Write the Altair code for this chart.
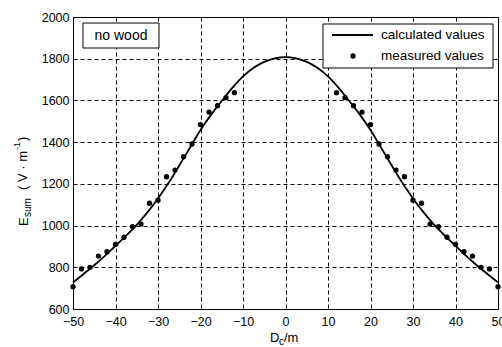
import altair as alt
import pandas as pd

# ---- data ----
calc_x = [-50, -47.5, -45, -42.5, -40, -37.5, -35, -32.5, -30, -27.5, -25, -22.5, -20, -17.5, -15,
          -12.5, -10, -7.5, -5, -2.5, 0, 2.5, 5, 7.5, 10, 12.5, 15, 17.5, 20, 22.5, 25, 27.5, 30,
          32.5, 35, 37.5, 40, 42.5, 45, 47.5, 50]
calc_y = [727, 768, 810, 855, 903, 952, 1003, 1063, 1130, 1205, 1288, 1373, 1458, 1532, 1597,
          1660, 1715, 1757, 1785, 1802, 1808, 1802, 1785, 1757, 1715, 1660, 1597, 1532, 1458, 1373,
          1288, 1205, 1130, 1063, 1003, 952, 903, 855, 810, 768, 727]

meas_x = [-50, -48, -46, -44, -42, -40, -38, -36, -34, -32, -30, -28, -26, -24, -22, -20, -18, -16, -14, -12,
          12, 14, 16, 18, 20, 22, 24, 26, 28, 30, 32, 34, 36, 38, 40, 42, 44, 46, 48, 50]
meas_y = [707, 792, 800, 854, 875, 910, 944, 995, 1007, 1107, 1122, 1234, 1266, 1330, 1391, 1484, 1544, 1575, 1613, 1637,
          1637, 1613, 1575, 1544, 1484, 1391, 1330, 1266, 1234, 1122, 1107, 1007, 995, 944, 910, 875, 854, 800, 792, 707]

x_ticks = [-50, -40, -30, -20, -10, 0, 10, 20, 30, 40, 50]
y_ticks = [600, 800, 1000, 1200, 1400, 1600, 1800, 2000]
legend_labels = ["calculated values", "measured values"]
panel_label = "no wood"

W, H = 425, 292
FONT = "Liberation Sans"

calc = pd.DataFrame({"d": calc_x, "e": calc_y})
meas = pd.DataFrame({"d": meas_x, "e": meas_y})
one = pd.DataFrame({"k": [0]})

xs = alt.Scale(domain=[-50, 50], nice=False, zero=False)
ys = alt.Scale(domain=[600, 2000], nice=False, zero=False)

xaxis = alt.Axis(values=x_ticks, title=None, grid=True, gridDash=[4, 3], gridColor="black",
                 gridOpacity=1, gridWidth=1, ticks=False, labelPadding=6, labelFontSize=12.5,
                 labelFont=FONT, labelColor="black", domainColor="black", labelFlush=False,
                 format="d")
yaxis = alt.Axis(values=y_ticks, title=None, grid=True, gridDash=[4, 3], gridColor="black",
                 gridOpacity=1, gridWidth=1, ticks=False, labelPadding=4, labelFontSize=12.5,
                 labelFont=FONT, labelColor="black", domainColor="black", labelFlush=False,
                 format="d")

line = alt.Chart(calc).mark_line(color="black", strokeWidth=1.8, interpolate="monotone").encode(
    x=alt.X("d:Q", scale=xs, axis=xaxis),
    y=alt.Y("e:Q", scale=ys, axis=yaxis),
)
pts = alt.Chart(meas).mark_circle(color="black", size=28, opacity=1).encode(
    x=alt.X("d:Q", scale=xs),
    y=alt.Y("e:Q", scale=ys),
)


def txt(s, x, y, size=13, angle=0, align="left", baseline="alphabetic"):
    kw = dict(font=FONT, fontSize=size, color="black", align=align, baseline=baseline)
    if angle:
        kw["angle"] = angle
    return alt.Chart(one).mark_text(**kw).encode(
        x=alt.value(x), y=alt.value(y), text=alt.value(s))


# panel label box
label_box = alt.Chart(one).mark_rect(fill="white", stroke="black", strokeWidth=1).encode(
    x=alt.value(10), x2=alt.value(86), y=alt.value(6), y2=alt.value(31))
label_txt = txt(panel_label, 48, 19, size=14, align="center", baseline="middle")

# legend
leg_box = alt.Chart(one).mark_rect(fill="white", stroke="black", strokeWidth=1).encode(
    x=alt.value(250), x2=alt.value(420), y=alt.value(7), y2=alt.value(51))
leg_line = alt.Chart(one).mark_rule(color="black", strokeWidth=1.8).encode(
    x=alt.value(259), x2=alt.value(300), y=alt.value(18))
leg_pt = alt.Chart(one).mark_circle(color="black", size=28, opacity=1).encode(
    x=alt.value(280), y=alt.value(39))
leg_t1 = txt(legend_labels[0], 308, 18, size=13.5, baseline="middle")
leg_t2 = txt(legend_labels[1], 308, 39, size=13.5, baseline="middle")

# axis titles (with sub/superscripts)
xt = [txt("D", 197, 325, 13), txt("c", 206, 328, 10), txt("/m", 211, 325, 13)]
yt = [
    txt("E", -49, 209, 13, angle=270, baseline="middle"),
    txt("sum", -45, 200, 10, angle=270, baseline="middle"),
    txt("( V · m", -50, 173, 13, angle=270, baseline="middle"),
    txt("-1", -56, 133, 9, angle=270, baseline="middle"),
    txt(")", -50, 124, 13, angle=270, baseline="middle"),
]

chart = alt.layer(line, pts, label_box, label_txt, leg_box, leg_line, leg_pt, leg_t1, leg_t2,
                  *xt, *yt).properties(
    width=W, height=H,
    padding={"left": 73, "top": 17, "right": 4, "bottom": 38},
    autosize=alt.AutoSizeParams(type="none"),
    background="white",
).configure_view(stroke="black", strokeWidth=1)

chart.save("out.html", embed_options={"renderer": "svg", "actions": False})
